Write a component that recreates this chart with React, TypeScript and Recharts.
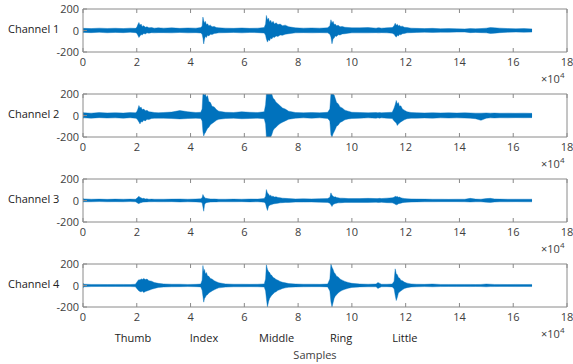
import React from 'react';
import { AreaChart, Area, XAxis, YAxis } from 'recharts';

// sample index, in units of 10^4 (denser around the five finger bursts)
const samples = [
  0, 0.05, 0.3, 0.6, 0.9, 1.2, 1.5, 1.75, 1.95,
  2.0, 2.04, 2.08, 2.12, 2.16, 2.2, 2.26, 2.32, 2.38, 2.45, 2.55, 2.65, 2.8,
  3.0, 3.3, 3.6, 3.9, 4.2, 4.38,
  4.43, 4.46, 4.49, 4.52, 4.55, 4.59, 4.63, 4.68, 4.74, 4.8, 4.88, 4.96, 5.05,
  5.3, 5.6, 5.9, 6.2, 6.5, 6.74,
  6.79, 6.82, 6.86, 6.9, 6.94, 6.98, 7.02, 7.07, 7.12, 7.18, 7.25, 7.33, 7.42, 7.52, 7.65,
  7.9, 8.2, 8.5, 8.8, 9.1,
  9.18, 9.22, 9.26, 9.3, 9.34, 9.38, 9.43, 9.49, 9.56, 9.64, 9.74, 9.86, 10.0,
  10.3, 10.6, 10.9, 10.97, 11.02, 11.1, 11.3, 11.5,
  11.57, 11.61, 11.65, 11.69, 11.73, 11.77, 11.82, 11.88, 11.95, 12.05, 12.2,
  12.4, 12.7, 13.0, 13.3, 13.6, 13.9, 14.2, 14.4, 14.6, 14.8, 15.0, 15.15, 15.3, 15.5, 15.8, 16.1, 16.4, 16.7,
];

// upper / lower envelope of each EMG channel
const ch1Hi = [
  22, 20, 18, 22, 19, 21, 18, 22, 20,
  30, 55, 75, 48, 60, 38, 45, 30, 35, 25, 28, 22, 25,
  22, 25, 20, 24, 22, 28,
  40, 125, 90, 70, 85, 55, 62, 45, 50, 35, 38, 28, 25,
  22, 20, 24, 20, 22, 28,
  60, 140, 100, 115, 80, 95, 70, 85, 60, 72, 55, 60, 45, 50, 35,
  25, 22, 24, 22, 25,
  45, 100, 70, 85, 55, 60, 45, 48, 35, 38, 30, 28, 25,
  25, 28, 22, 25, 25, 22, 25, 28,
  45, 68, 50, 58, 42, 48, 38, 40, 30, 28, 22,
  20, 18, 20, 17, 18, 16, 15, 18, 16, 18, 22, 28, 25, 22, 18, 16, 18, 15,
];
const ch1Lo = [
  -20, -18, -20, -17, -21, -18, -20, -17, -20,
  -25, -45, -65, -50, -38, -42, -28, -32, -22, -25, -20, -22, -20,
  -20, -22, -18, -22, -20, -24,
  -35, -70, -125, -80, -55, -65, -45, -50, -35, -38, -28, -25, -22,
  -20, -18, -22, -18, -20, -24,
  -45, -80, -108, -85, -95, -70, -78, -60, -65, -50, -55, -42, -45, -35, -30,
  -22, -20, -22, -20, -22,
  -35, -60, -124, -80, -70, -50, -55, -40, -42, -32, -30, -25, -22,
  -22, -22, -20, -22, -22, -20, -22, -25,
  -35, -50, -62, -45, -50, -38, -40, -30, -28, -22, -20,
  -18, -16, -18, -16, -17, -15, -15, -20, -18, -20, -22, -28, -25, -20, -16, -15, -16, -15,
];

const ch2Hi = [
  28, 25, 22, 27, 24, 26, 23, 27, 25,
  35, 60, 93, 70, 78, 55, 60, 45, 48, 35, 32, 28, 26,
  28, 32, 46, 35, 28, 30,
  60, 200, 200, 190, 200, 170, 185, 130, 120, 85, 80, 55, 40,
  30, 28, 35, 30, 28, 35,
  100, 200, 200, 200, 200, 200, 200, 160, 150, 124, 110, 90, 70, 60, 40,
  28, 25, 28, 25, 30,
  60, 200, 200, 200, 190, 160, 120, 110, 80, 70, 50, 40, 30,
  28, 25, 28, 25, 28, 25, 28, 30,
  70, 100, 140, 110, 120, 85, 90, 60, 50, 35, 28,
  26, 24, 26, 24, 25, 23, 25, 24, 22, 22, 24, 22, 23, 21, 22, 21, 22, 20,
];
const ch2Lo = [
  -25, -22, -25, -20, -24, -22, -25, -21, -25,
  -30, -45, -60, -78, -55, -62, -45, -50, -35, -38, -28, -26, -25,
  -25, -28, -32, -28, -25, -28,
  -50, -150, -190, -170, -160, -140, -120, -110, -85, -75, -60, -45, -35,
  -28, -25, -30, -28, -25, -30,
  -80, -200, -200, -200, -200, -200, -180, -140, -121, -110, -90, -75, -62, -50, -35,
  -25, -22, -25, -22, -28,
  -50, -180, -200, -170, -150, -130, -100, -90, -65, -55, -40, -32, -28,
  -25, -22, -25, -22, -25, -22, -25, -28,
  -50, -60, -70, -93, -80, -70, -60, -50, -40, -30, -25,
  -25, -23, -25, -22, -24, -22, -24, -25, -30, -45, -25, -22, -23, -21, -22, -20, -21, -20,
];

const ch3Hi = [
  18, 15, 12, 13, 11, 13, 12, 13, 12,
  20, 30, 40, 28, 25, 18, 20, 15, 16, 12, 13, 12, 12,
  12, 13, 14, 12, 14, 16,
  25, 56, 40, 30, 22, 20, 18, 16, 15, 14, 15, 13, 12,
  12, 13, 12, 14, 13, 18,
  40, 102, 70, 60, 45, 50, 38, 40, 32, 34, 28, 26, 22, 20, 18,
  15, 16, 15, 17, 18,
  30, 71, 50, 40, 32, 35, 28, 25, 22, 22, 20, 18, 18,
  18, 20, 18, 18, 20, 18, 22, 25,
  30, 40, 35, 38, 30, 32, 25, 22, 18, 16, 15,
  14, 13, 12, 12, 11, 12, 12, 20, 13, 12, 18, 20, 15, 13, 12, 12, 12, 12,
];
const ch3Lo = [
  -15, -12, -12, -10, -12, -11, -12, -10, -12,
  -18, -25, -30, -22, -20, -16, -15, -14, -13, -12, -12, -11, -12,
  -12, -11, -14, -12, -13, -16,
  -22, -60, -100, -40, -25, -20, -18, -16, -15, -14, -13, -13, -12,
  -12, -12, -11, -13, -12, -16,
  -30, -60, -93, -55, -45, -40, -38, -32, -30, -28, -25, -22, -20, -18, -18,
  -15, -15, -14, -16, -18,
  -25, -40, -56, -38, -32, -28, -25, -22, -22, -20, -18, -18, -18,
  -18, -18, -17, -18, -18, -17, -20, -22,
  -28, -35, -40, -38, -30, -28, -25, -20, -18, -16, -15,
  -13, -12, -12, -11, -11, -11, -12, -14, -12, -12, -16, -18, -14, -12, -12, -11, -12, -12,
];

const ch4Hi = [
  20, 12, 10, 10, 9, 10, 10, 9, 12,
  30, 45, 55, 50, 62, 55, 65, 55, 60, 45, 40, 28, 20,
  15, 12, 12, 10, 11, 14,
  50, 186, 130, 150, 110, 120, 90, 85, 65, 60, 45, 35, 25,
  15, 12, 12, 11, 12, 15,
  60, 193, 150, 130, 120, 100, 95, 75, 70, 55, 50, 38, 30, 25, 18,
  14, 12, 12, 11, 14,
  60, 200, 170, 150, 120, 110, 85, 80, 60, 50, 38, 28, 20,
  14, 12, 14, 28, 22, 12, 12, 14,
  40, 155, 110, 100, 75, 70, 50, 45, 32, 22, 15,
  12, 11, 14, 10, 10, 10, 10, 10, 9, 10, 14, 12, 10, 10, 9, 10, 9, 10,
];
const ch4Lo = [
  -20, -12, -10, -9, -10, -9, -10, -10, -12,
  -28, -40, -50, -55, -60, -52, -65, -55, -50, -45, -35, -28, -18,
  -14, -12, -11, -10, -11, -13,
  -45, -100, -155, -120, -110, -90, -85, -70, -60, -50, -40, -30, -22,
  -15, -12, -12, -11, -12, -14,
  -50, -120, -200, -150, -120, -105, -90, -80, -65, -58, -45, -38, -28, -22, -16,
  -13, -12, -11, -11, -13,
  -50, -150, -200, -160, -120, -100, -85, -70, -55, -45, -35, -26, -18,
  -13, -12, -12, -28, -20, -12, -11, -13,
  -30, -90, -140, -110, -70, -60, -50, -40, -28, -20, -14,
  -12, -10, -12, -10, -9, -10, -9, -10, -9, -10, -12, -10, -10, -9, -9, -10, -9, -10,
];

const channelNames = ['Channel 1', 'Channel 2', 'Channel 3', 'Channel 4'];
const xTicks = [0, 2, 4, 6, 8, 10, 12, 14, 16, 18];
const yTicks = [-200, 0, 200];
const fingers = ['Thumb', 'Index', 'Middle', 'Ring', 'Little'];
const fingerAt = [1.86, 4.5, 7.2, 9.6, 11.97];

const BLUE = '#0072BD';
const AXIS = '#8a8a8a';
const TXT = '#404040';
const FONT = '"Open Sans", sans-serif';

const PLOT_L = 83;
const PLOT_R = 567;

const BottomTick = (props: any) => {
  const { x, y, payload } = props;
  return (
    <g>
      <line x1={x} y1={y} x2={x} y2={y - 4} stroke={AXIS} />
      <text x={x} y={y + 14} textAnchor="middle" fill={TXT} fontSize={11} fontFamily={FONT}>
        {payload.value}
      </text>
    </g>
  );
};

const TopTick = (props: any) => {
  const { x, y } = props;
  return <line x1={x} y1={y} x2={x} y2={y + 4} stroke={AXIS} />;
};

const LeftTick = (props: any) => {
  const { x, y, payload } = props;
  return (
    <g>
      <line x1={x} y1={y} x2={x + 4} y2={y} stroke={AXIS} />
      <text x={x - 4} y={y + 4} textAnchor="end" fill={TXT} fontSize={11} fontFamily={FONT}>
        {payload.value}
      </text>
    </g>
  );
};

const RightTick = (props: any) => {
  const { x, y } = props;
  return <line x1={x} y1={y} x2={x - 4} y2={y} stroke={AXIS} />;
};

const Panel = ({ hi, lo, name, top }: any) => {
  const data = samples.map((s, i) => ({ s, hi: hi[i], lo: lo[i] }));
  return (
    <div style={{ position: 'absolute', left: 0, top, width: 573, height: 85 }}>
      <AreaChart
        width={573}
        height={85}
        data={data}
        margin={{ top: 8, right: 573 - PLOT_R - 1, bottom: 13, left: PLOT_L - 40 }}
      >
        <XAxis xAxisId="b" dataKey="s" type="number" domain={[0, 18]} ticks={xTicks} interval={0}
          height={20} tickSize={0} tickMargin={0} stroke={AXIS} tick={<BottomTick />} />
        <XAxis xAxisId="t" orientation="top" dataKey="s" type="number" domain={[0, 18]} ticks={xTicks} interval={0}
          height={1} tickSize={0} tickMargin={0} stroke={AXIS} tick={<TopTick />} />
        <YAxis yAxisId="l" type="number" domain={[-200, 200]} ticks={yTicks} interval={0} allowDataOverflow
          width={40} tickSize={0} tickMargin={0} stroke={AXIS} tick={<LeftTick />} />
        <YAxis yAxisId="r" orientation="right" type="number" domain={[-200, 200]} ticks={yTicks} interval={0}
          width={1} tickSize={0} tickMargin={0} stroke={AXIS} tick={<RightTick />} />
        <Area
          xAxisId="b"
          yAxisId="l"
          dataKey={(d: any) => [d.lo, d.hi]}
          type="linear"
          stroke={BLUE}
          strokeWidth={0.4}
          fill={BLUE}
          fillOpacity={1}
          dot={false}
          activeDot={false}
          isAnimationActive={false}
        />
      </AreaChart>
      <div style={{ position: 'absolute', left: 8, top: 21, fontSize: 11, fontFamily: FONT, color: '#222', whiteSpace: 'nowrap' }}>
        {name}
      </div>
      <div style={{ position: 'absolute', left: 541, top: 71, fontSize: 11, fontFamily: FONT, color: TXT, whiteSpace: 'nowrap' }}>
        ×10<span style={{ fontSize: 8, position: 'relative', top: -5 }}>4</span>
      </div>
    </div>
  );
};

const channels = [
  { hi: ch1Hi, lo: ch1Lo },
  { hi: ch2Hi, lo: ch2Lo },
  { hi: ch3Hi, lo: ch3Lo },
  { hi: ch4Hi, lo: ch4Lo },
];

export default function App() {
  const unit = (PLOT_R - PLOT_L) / 18;
  return (
    <div style={{ position: 'absolute', left: 0, top: 0, width: 573, height: 364, background: '#fff', overflow: 'hidden' }}>
      {channels.map((c, k) => (
        <Panel key={k} hi={c.hi} lo={c.lo} name={channelNames[k]} top={85 * k} />
      ))}
      {fingers.map((f, i) => (
        <div key={f} style={{
          position: 'absolute', left: PLOT_L + fingerAt[i] * unit - 40, width: 80, top: 330,
          textAlign: 'center', fontSize: 11, fontFamily: FONT, color: '#222',
        }}>
          {f}
        </div>
      ))}
      <div style={{ position: 'absolute', left: 275, width: 80, top: 347, textAlign: 'center', fontSize: 11, fontFamily: FONT, color: TXT }}>
        Samples
      </div>
    </div>
  );
}
